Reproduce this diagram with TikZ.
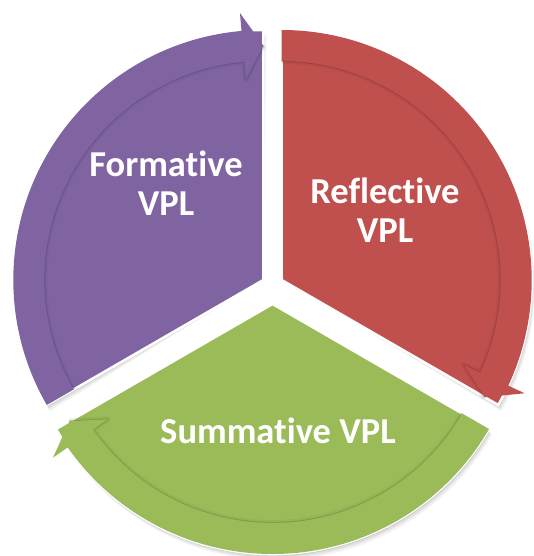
\documentclass[tikz,border=0pt]{standalone}
\usepackage{fontspec}
\setmainfont[Ligatures={NoCommon}]{Carlito}
\definecolor{vpurple}{HTML}{8064A2}
\definecolor{vred}{HTML}{C0504D}
\definecolor{vgreen}{HTML}{9BBB59}
\begin{document}
\begin{tikzpicture}[x=1pt,y=1pt,
  wedgeshape/.style={line width=2.5pt, draw=white, line join=miter},
  vtext/.style={text=white, font=\fontsize{36.5}{39.5}\selectfont\bfseries, align=center, inner sep=0pt}]
\useasboundingbox (0,0) rectangle (533,-556);
\coordinate (P) at (263.3,-280);
\coordinate (Q) at (281.7,-280);
\coordinate (G) at (272.5,-304);
% soft shadows of the wedges
\foreach \dx/\dy/\op in {1/-2/0.10, 2/-4/0.07, 3/-6/0.05}{
  \begin{scope}[shift={(\dx,\dy)}]
  \foreach \c/\a/\b in {P/210/90, Q/90/-30, G/-30/-150}{
    \fill[black, opacity=\op] (\c) -- ([shift={(\c)}]\a:250) arc[start angle=\a, end angle=\b, radius=250] -- cycle;
  }
  \end{scope}
}
% wedges
\foreach \c/\a/\b/\col in {P/210/90/vpurple, Q/90/-30/vred, G/-30/-150/vgreen}{
  \filldraw[wedgeshape, fill=\col] (\c) -- ([shift={(\c)}]\a:250) arc[start angle=\a, end angle=\b, radius=250] -- cycle;
}
% arrow bands: inner shading then fill
\foreach \c/\a/\b/\col in {P/210/90/vpurple, Q/90/-30/vred, G/-30/-150/vgreen}{
  \draw[\col!60!black, opacity=0.10, line width=6pt, line join=round]
    ([shift={(\c)}]\b:234.5) -- ([shift={(\c)}]\b+5:201) -- ([shift={(\c)}]\b+5:219) arc[start angle=\b+5, end angle=\a, radius=219];
  \draw[\col!60!black, opacity=0.35, line width=2pt, line join=round]
    ([shift={(\c)}]\b:234.5) -- ([shift={(\c)}]\b+5:201) -- ([shift={(\c)}]\b+5:219) arc[start angle=\b+5, end angle=\a, radius=219];
  \fill[\col] ([shift={(\c)}]\a:250) arc[start angle=\a, end angle=\b+5, radius=250]
    -- ([shift={(\c)}]\b+5:268) -- ([shift={(\c)}]\b:234.5) -- ([shift={(\c)}]\b+5:201)
    -- ([shift={(\c)}]\b+5:219) arc[start angle=\b+5, end angle=\a, radius=219] -- cycle;
}
\node[vtext] (form) at (166,-183) {Formative\\VPL};
\node[vtext] (refl) at (385,-210) {Reflective\\VPL};
\node[vtext, anchor=base] (summ) at (278,-443) {Summative VPL};
\end{tikzpicture}
\end{document}
